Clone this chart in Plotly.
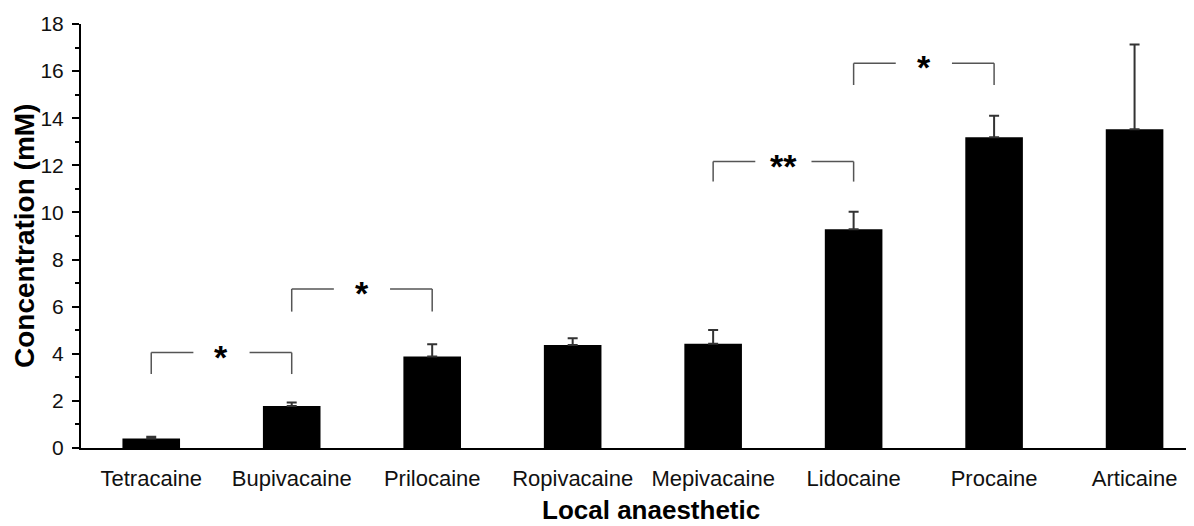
import plotly.graph_objects as go

categories = ["Tetracaine", "Bupivacaine", "Prilocaine", "Ropivacaine",
              "Mepivacaine", "Lidocaine", "Procaine", "Articaine"]
values = [0.40, 1.78, 3.88, 4.37, 4.43, 9.29, 13.19, 13.53]
errors = [0.08, 0.15, 0.52, 0.29, 0.58, 0.74, 0.91, 3.60]
y_ticks = [0, 2, 4, 6, 8, 10, 12, 14, 16, 18]

# significance brackets (category indices, heights in mM, label)
bracket_left = [0, 1, 4, 5]
bracket_right = [1, 2, 5, 6]
bracket_top = [4.05, 6.75, 12.16, 16.33]
bracket_bottom = [3.14, 5.79, 11.31, 15.41]
bracket_label = ["*", "*", "**", "*"]

FONT = "Liberation Sans, Arial, sans-serif"
idx = list(range(len(categories)))

fig = go.Figure()
fig.add_trace(go.Bar(
    x=idx, y=values, width=0.41,
    marker=dict(color="black", line=dict(width=0)),
    error_y=dict(type="data", array=errors, arrayminus=[0] * len(errors),
                 symmetric=False, color="#333333", thickness=2, width=5),
    showlegend=False,
))

shapes = []
annotations = []
line_style = dict(color="#555555", width=1.5)
for xl, xr, yt, yb, lab in zip(bracket_left, bracket_right, bracket_top,
                               bracket_bottom, bracket_label):
    gap = (xr - xl)
    shapes.append(dict(type="line", xref="x", yref="y", x0=xl, x1=xl, y0=yb, y1=yt, line=line_style))
    shapes.append(dict(type="line", xref="x", yref="y", x0=xl, x1=xl + 0.3 * gap, y0=yt, y1=yt, line=line_style))
    shapes.append(dict(type="line", xref="x", yref="y", x0=xr - 0.3 * gap, x1=xr, y0=yt, y1=yt, line=line_style))
    shapes.append(dict(type="line", xref="x", yref="y", x0=xr, x1=xr, y0=yb, y1=yt, line=line_style))
    annotations.append(dict(x=(xl + xr) / 2, y=yt, xref="x", yref="y", text="<b>" + lab + "</b>",
                            showarrow=False, yanchor="middle", xanchor="center", yshift=-4,
                            font=dict(family=FONT, size=34, color="black")))

annotations.append(dict(text="<b>Local anaesthetic</b>", xref="paper", yref="paper",
                        x=(651 - 81) / (1194 - 81 + 8), y=0, yshift=-62, xanchor="center", yanchor="middle",
                        showarrow=False, font=dict(family=FONT, size=26, color="black")))
annotations.append(dict(text="<b>Concentration (mM)</b>", xref="paper", yref="paper",
                        x=0, y=0.5, xshift=-57, xanchor="center", yanchor="middle",
                        textangle=-90, showarrow=False,
                        font=dict(family=FONT, size=28, color="black")))

fig.update_layout(
    width=1194, height=526,
    margin=dict(l=73, r=0, t=16, b=86),
    plot_bgcolor="white", paper_bgcolor="white",
    shapes=shapes, annotations=annotations,
    xaxis=dict(range=[-0.5, 7.48], tickmode="array", tickvals=idx, ticktext=categories,
               showline=True, linecolor="black", linewidth=2, ticks="",
               ticklabelstandoff=10, showgrid=False, zeroline=False,
               tickfont=dict(family=FONT, size=22, color="#111111")),
    yaxis=dict(range=[0, 18], tickmode="array", tickvals=y_ticks,
               showline=True, linecolor="black", linewidth=2,
               ticks="outside", ticklen=7, tickwidth=2, tickcolor="black",
               minor=dict(dtick=1, ticks="outside", ticklen=4, tickwidth=1.5, tickcolor="black", showgrid=False),
               ticklabelstandoff=4, showgrid=False, zeroline=False,
               tickfont=dict(family=FONT, size=21, color="#111111")),
)

fig.write_html("out.html")
